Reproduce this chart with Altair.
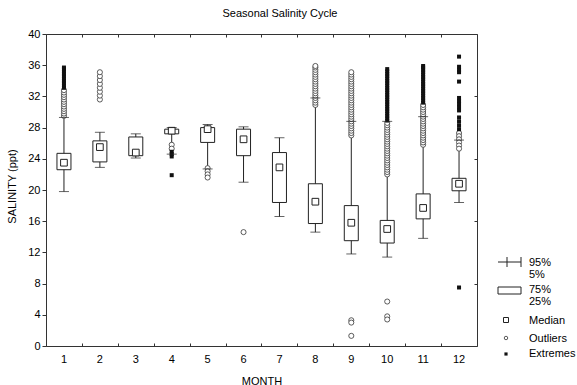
import altair as alt
import pandas as pd

FONT = "Liberation Sans"

# ---------------- data ----------------
months = [str(m) for m in range(1, 13)]
p5 = [19.8, 22.9, 24.1, 24.6, 22.7, 21.0, 16.6, 14.6, 11.8, 11.4, 13.8, 18.4]
q1 = [22.6, 23.6, 24.4, 27.2, 26.1, 24.4, 18.4, 15.7, 13.5, 13.2, 16.3, 19.9]
med = [23.5, 25.5, 24.8, 27.6, 27.8, 26.5, 22.9, 18.5, 15.8, 15.0, 17.7, 20.8]
q3 = [24.7, 26.3, 26.8, 27.8, 28.0, 27.8, 24.8, 20.8, 18.0, 16.1, 19.5, 21.5]
p95 = [29.3, 27.4, 27.2, 28.0, 28.4, 28.1, 26.7, 31.8, 28.8, 28.8, 29.4, 26.4]

out_1 = [29.5, 29.8, 30.1, 30.4, 30.7, 31.0, 31.3, 31.6, 31.9, 32.2, 32.5, 32.8]
ext_1 = [33.1, 33.4, 33.7, 34.0, 34.3, 34.6, 34.9, 35.2, 35.5, 35.7]
out_2 = [31.6, 32.1, 32.6, 33.1, 33.6, 34.1, 34.6, 35.1]
ext_2 = []
out_3 = []
ext_3 = []
out_4 = [25.8, 25.3]
ext_4 = [24.9, 24.6, 24.3, 21.9]
out_5 = [22.8, 22.4, 22.0, 21.6]
ext_5 = []
out_6 = [14.6]
ext_6 = []
out_7 = []
ext_7 = []
out_8 = [30.9, 31.2, 31.5, 31.8, 32.1, 32.4, 32.7, 33.0, 33.3, 33.6, 33.9, 34.2,
         34.5, 34.8, 35.1, 35.4, 35.7, 35.9]
ext_8 = []
out_9 = [27.0, 27.3, 27.6, 27.9, 28.2, 28.5, 28.8, 29.1, 29.4, 29.7, 30.0, 30.3,
         30.6, 30.9, 31.2, 31.5, 31.8, 32.1, 32.4, 32.7, 33.0, 33.3, 33.6, 33.9,
         34.2, 34.5, 34.8, 35.1, 3.3, 3.0, 1.3]
ext_9 = []
out_10 = [22.0, 22.3, 22.6, 22.9, 23.2, 23.5, 23.8, 24.1, 24.4, 24.7, 25.0, 25.3,
          25.6, 25.9, 26.2, 26.5, 26.8, 27.1, 27.4, 27.7, 28.0, 28.3, 28.6,
          5.7, 3.8, 3.4]
ext_10 = [28.9, 29.2, 29.5, 29.8, 30.1, 30.4, 30.7, 31.0, 31.3, 31.6, 31.9, 32.2,
          32.5, 32.8, 33.1, 33.4, 33.7, 34.0, 34.3, 34.6, 34.9, 35.2, 35.5]
out_11 = [25.8, 26.1, 26.4, 26.7, 27.0, 27.3, 27.6, 27.9, 28.2, 28.5, 28.8, 29.1,
          29.4, 29.7, 30.0, 30.3, 30.6, 30.9]
ext_11 = [31.2, 31.5, 31.8, 32.1, 32.4, 32.7, 33.0, 33.3, 33.6, 33.9, 34.2, 34.5,
          34.8, 35.1, 35.4, 35.7, 35.9]
out_12 = [27.3, 26.9, 26.5, 26.1, 25.7, 25.3]
ext_12 = [37.1, 35.8, 35.4, 35.1, 33.9, 31.8, 31.4, 31.0, 30.6, 30.2, 29.3, 28.8,
          28.3, 27.8, 7.5]

outs = [out_1, out_2, out_3, out_4, out_5, out_6, out_7, out_8, out_9, out_10, out_11, out_12]
exts = [ext_1, ext_2, ext_3, ext_4, ext_5, ext_6, ext_7, ext_8, ext_9, ext_10, ext_11, ext_12]

legend_labels = ["95%", "5%", "75%", "25%", "Median", "Outliers", "Extremes"]

# ---------------- tables ----------------
box_df = pd.DataFrame({"month": months, "p5": p5, "q1": q1, "med": med, "q3": q3, "p95": p95})
out_df = pd.DataFrame([{"month": m, "v": v} for m, lst in zip(months, outs) for v in lst])
ext_df = pd.DataFrame([{"month": m, "v": v} for m, lst in zip(months, exts) for v in lst])

W, H = 431, 312
OX, OY = 46, 34

xscale = alt.Scale(type="band", domain=months, paddingInner=0, paddingOuter=0)
yscale = alt.Scale(domain=[0, 40], nice=False, zero=False)


def X(axis):
    return alt.X("month:O", scale=xscale, sort=months, axis=axis)


def Y(field, axis=None):
    return alt.Y(f"{field}:Q", scale=yscale, axis=axis)


ax_bottom = alt.Axis(title="MONTH", orient="bottom", ticks=False, labelAngle=0,
                     labelPadding=7, labelBaseline="top", domain=True,
                     titleY=38, titleBaseline="alphabetic", titleAlign="center")
ax_bottom_ticks = alt.Axis(title=None, orient="top", offset=-H, labels=False,
                           domain=False, ticks=True, tickSize=3, tickBand="extent")
ax_top = alt.Axis(title=None, orient="bottom", offset=-H, labels=False,
                  domain=True, ticks=True, tickSize=3, tickBand="extent")
ax_left = alt.Axis(title="SALINITY (ppt)", orient="left", values=list(range(0, 41, 4)),
                   tickSize=4, labelPadding=2, titleAngle=-90, titleX=-34, titleY=152,
                   titleAlign="center", titleBaseline="middle")
ax_right = alt.Axis(title=None, orient="left", offset=-W, values=[8, 16, 24, 32],
                    labels=False, tickSize=3, domain=True)

LC = "#222222"

whisk = alt.Chart(box_df).mark_rule(color=LC, strokeWidth=1).encode(
    x=X(ax_bottom), y=Y("p5", ax_left), y2="p95:Q")
box = alt.Chart(box_df).mark_bar(size=14, fill="white", stroke=LC, strokeWidth=1).encode(
    x=X(ax_bottom_ticks), y=Y("q1", ax_right), y2="q3:Q")
median = alt.Chart(box_df).mark_square(size=45, filled=True, fill="white", stroke=LC,
                                       strokeWidth=1, opacity=1).encode(
    x=X(ax_top), y=Y("med"))
outliers = alt.Chart(out_df).mark_point(shape="circle", size=26, filled=True, fill="white",
                                        stroke="#333333", strokeWidth=0.8, opacity=1).encode(
    x=X(None), y=Y("v"))
extremes = alt.Chart(ext_df).mark_square(size=16, color="#111111", opacity=1).encode(
    x=X(None), y=Y("v"))
cap_lo = alt.Chart(box_df).mark_tick(size=10, thickness=1, color=LC).encode(
    x=X(None), y=Y("p5"))
cap_hi = alt.Chart(box_df).mark_tick(size=10, thickness=1, color=LC).encode(
    x=X(None), y=Y("p95"))

one = alt.Data(values=[{"k": 0}])


def px(v):
    return alt.value(v - OX)


def py(v):
    return alt.value(v - OY)


title = alt.Chart(one).mark_text(text="Seasonal Salinity Cycle", fontSize=11, align="center",
                                 baseline="alphabetic", font=FONT, color="black").encode(
    x=px(280), y=py(17))

leg = [
    alt.Chart(one).mark_rule(color=LC).encode(x=px(498), x2=px(521), y=py(262)),
    alt.Chart(one).mark_rule(color=LC).encode(x=px(507), y=py(257), y2=py(267)),
    alt.Chart(one).mark_rule(color=LC).encode(x=px(521), y=py(257), y2=py(267)),
    alt.Chart(one).mark_rect(fill="white", stroke=LC, strokeWidth=1).encode(
        x=px(498), x2=px(521), y=py(287), y2=py(294)),
    alt.Chart(one).mark_square(size=25, filled=True, fill="white", stroke=LC,
                               strokeWidth=1, opacity=1).encode(x=px(506), y=py(320)),
    alt.Chart(one).mark_point(shape="circle", size=12, filled=True, fill="white",
                              stroke="#333333", strokeWidth=0.8, opacity=1).encode(
        x=px(506), y=py(338)),
    alt.Chart(one).mark_square(size=10, color="#111111", opacity=1).encode(
        x=px(506), y=py(354)),
]
leg_y = [266, 278, 293, 305, 324, 342, 357]
for lab, yy in zip(legend_labels, leg_y):
    leg.append(alt.Chart(one).mark_text(text=lab, fontSize=11, align="left",
                                        baseline="alphabetic", font=FONT,
                                        color="black").encode(x=px(529), y=py(yy)))

chart = alt.layer(whisk, box, median, outliers, extremes, cap_lo, cap_hi, title, *leg).resolve_axis(
    x="independent", y="independent"
).properties(
    width=W, height=H,
    autosize=alt.AutoSizeParams(type="none"),
    padding={"left": OX, "top": OY, "right": 577 - OX - W, "bottom": 385 - OY - H},
).configure_view(stroke=None).configure_axis(
    grid=False, labelFont=FONT, titleFont=FONT, labelFontSize=11, titleFontSize=11,
    titleFontWeight="normal", labelColor="black", titleColor="black",
    domainColor="#333333", tickColor="#333333", domainWidth=1, tickWidth=1,
).configure_text(font=FONT)

chart.save("out.html", embed_options={"renderer": "svg", "actions": False})
